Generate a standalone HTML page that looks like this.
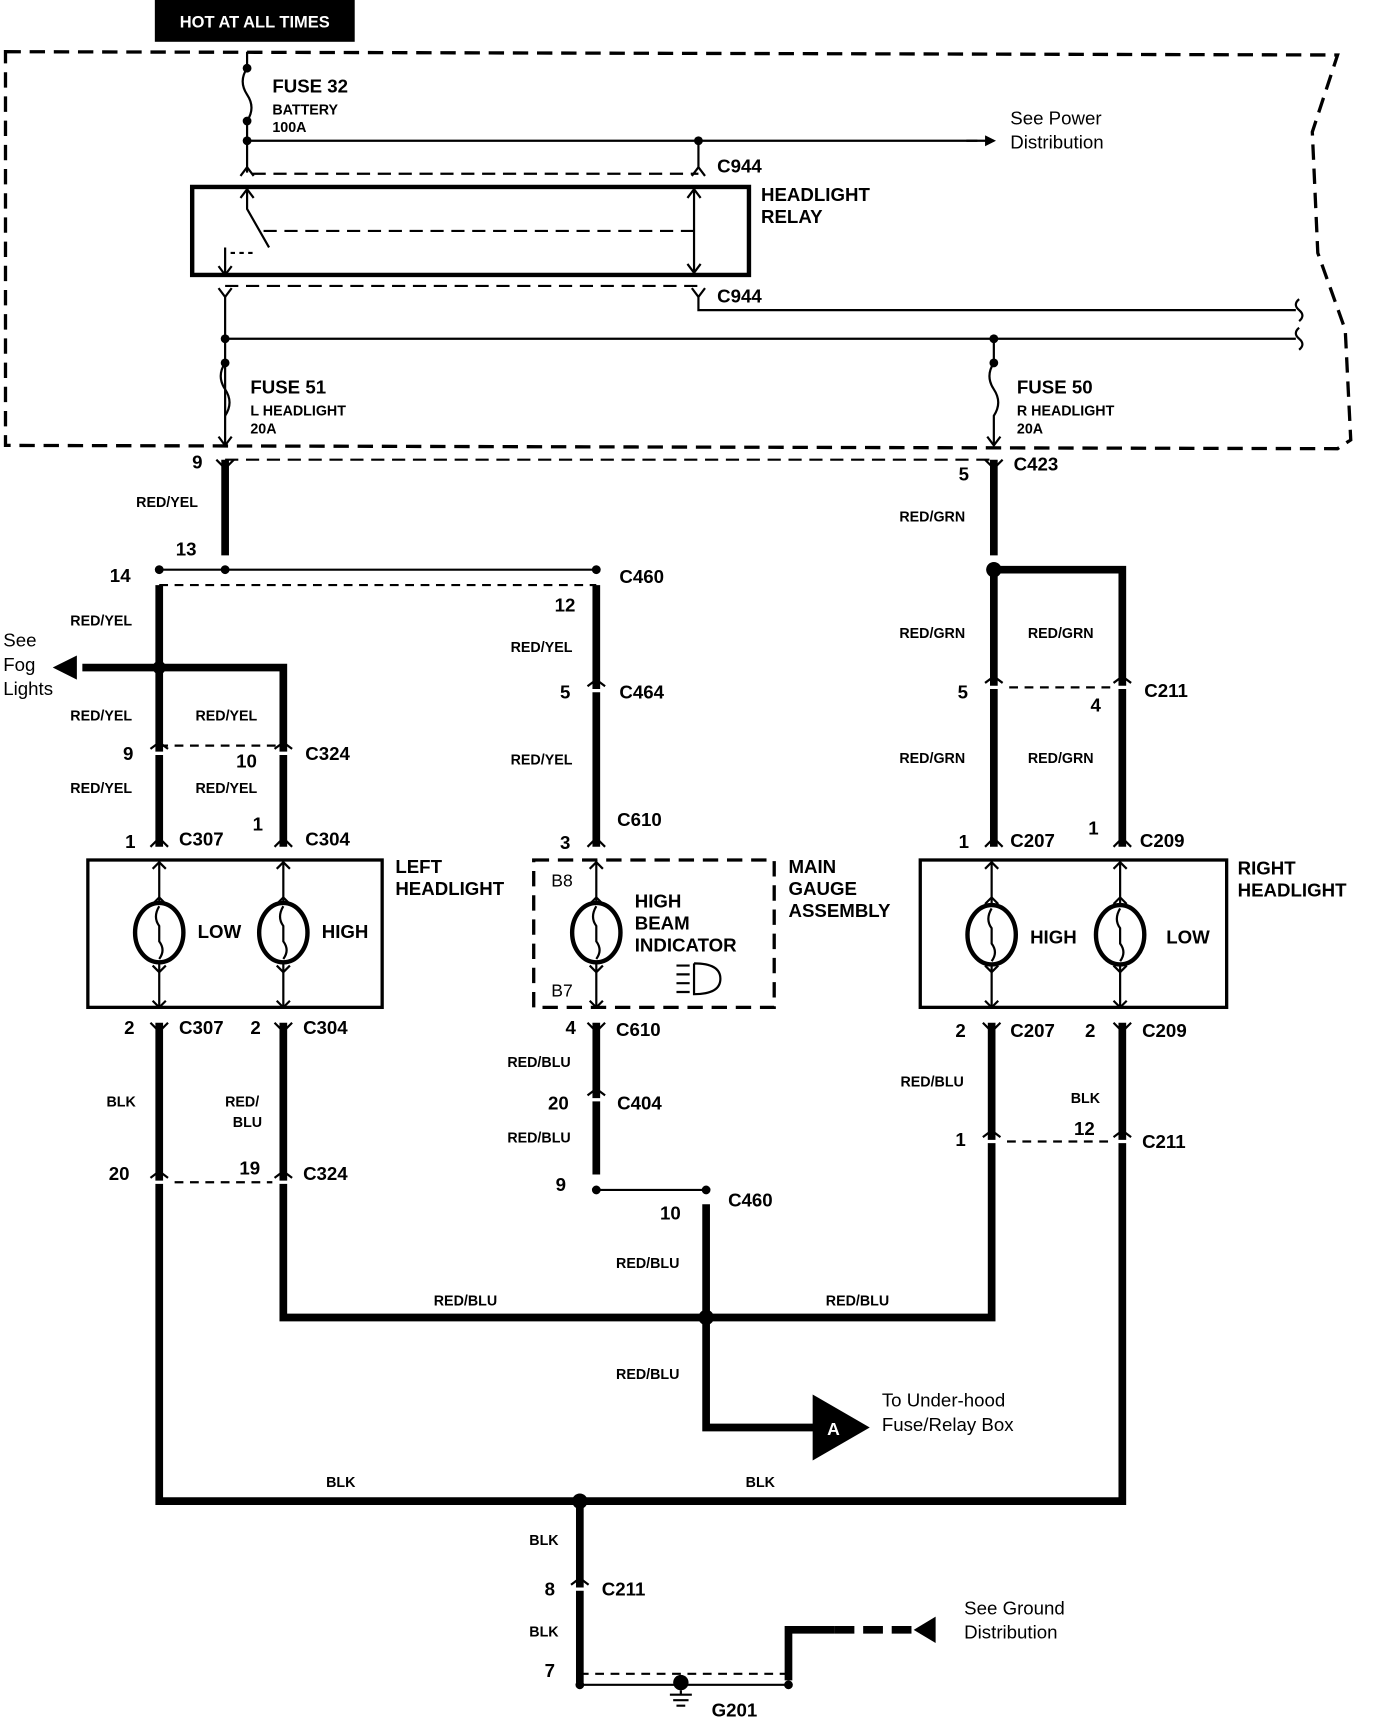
<!DOCTYPE html>
<html><head><meta charset="utf-8"><style>
html,body{margin:0;padding:0;background:#fff;}
svg{display:block}
text{font-family:"Liberation Sans",sans-serif;font-weight:bold;fill:#000}
.s{font-size:13px}
.m{font-size:17px}
.n{font-size:17px;font-weight:normal}
</style></head><body>
<svg width="1376" height="1720" viewBox="0 0 1253 1564" preserveAspectRatio="none" xmlns="http://www.w3.org/2000/svg">
<defs>
<marker id="ar" markerWidth="10" markerHeight="10" refX="8" refY="5" orient="auto" markerUnits="userSpaceOnUse"><path d="M0,0 L10,5 L0,10 z"/></marker>
</defs>
<rect x="0" y="0" width="1253" height="1564" fill="#fff"/>
<rect x="141" y="0" width="182" height="38" fill="#000"/>
<text x="232" y="25" text-anchor="middle" style="fill:#fff;font-size:15px">HOT AT ALL TIMES</text>
<path d="M5,47 L1218,50 L1195,120 L1200,230 L1225,300 L1230,400 L1218,408 L5,405 Z" fill="none" stroke="#000" stroke-width="3" stroke-dasharray="14 8"/>
<g fill="none" stroke="#000" stroke-width="2">
<path d="M225,47 V62 q-8,12 0,24 q8,12 0,24 V157"/>
<path d="M225,128 H890" />
<path d="M636,128 V152"/>
<path d="M219,160 l6,-8 l6,8 M630,160 l6,-8 l6,8"/>
<path d="M230,158 H636" stroke-dasharray="12 7"/>
<rect x="175" y="170" width="507" height="80" stroke-width="4"/>
<path d="M225,172 V190 L245,225"/>
<path d="M219,180 l6,-8 l6,8"/>
<path d="M240,210 H632" stroke-dasharray="12 7"/>
<path d="M632,172 V248 M626,180 l6,-8 l6,8 M626,240 l6,8 l6,-8"/>
<path d="M205,225 V250 M199,242 l6,8 l6,-8"/>
<path d="M210,230 h20" stroke-dasharray="4 4"/>
<path d="M199,262 l6,8 l6,-8 M630,262 l6,8 l6,-8"/>
<path d="M205,260 H636" stroke-dasharray="12 7"/>
<path d="M636,270 V282 H1180"/>
<path d="M205,270 V405"/>
<path d="M205,308 H1180"/>
<path d="M1183,272 q-6,5 0,10 q6,5 0,10 M1183,298 q-6,5 0,10 q6,5 0,10"/>
<path d="M205,330 q-8,12 0,24 q8,12 0,24"/>
<path d="M905,308 V330 q-8,12 0,24 q8,12 0,24 V405"/>
<path d="M199,397 l6,8 l6,-8 M899,397 l6,8 l6,-8"/>
<path d="M205,418 H905" stroke-dasharray="12 7"/>
<path d="M145,518 H543"/>
<path d="M145,532 H543" stroke-dasharray="8 6"/>
<path d="M145,678 H258 M905,625 H1022 M145,1075 H258 M903,1038 H1022" stroke-dasharray="8 6"/>
<path d="M543,1082 H643"/>
<path d="M528,1532 H718"/>
<path d="M528,1522 H718" stroke-dasharray="8 6"/>
</g>
<path d="M880,128 L905,128" stroke="#000" stroke-width="2" marker-end="url(#ar)"/>
<g fill="#000">
<circle cx="225" cy="128" r="4"/><circle cx="636" cy="128" r="4"/><circle cx="225" cy="62" r="4"/><circle cx="225" cy="110" r="4"/>
<circle cx="205" cy="308" r="4"/><circle cx="905" cy="308" r="4"/><circle cx="205" cy="330" r="4"/><circle cx="905" cy="330" r="4"/>
<circle cx="145" cy="518" r="4"/><circle cx="205" cy="518" r="4"/><circle cx="543" cy="518" r="4"/>
<circle cx="905" cy="518" r="7"/><circle cx="145" cy="607" r="6"/>
<circle cx="543" cy="1082" r="4"/><circle cx="643" cy="1082" r="4"/>
<circle cx="643" cy="1198" r="7"/><circle cx="528" cy="1365" r="7"/>
<circle cx="528" cy="1532" r="4"/><circle cx="718" cy="1532" r="4"/>
<circle cx="620" cy="1530" r="7"/>
</g>
<g fill="none" stroke="#000" stroke-width="7">
<path d="M205,418 V505 M905,418 V505"/>
<path d="M145,532 V770 M145,607 H75 M145,607 H258 V770"/>
<path d="M543,532 V770"/>
<path d="M905,518 V770 M905,518 H1022 V770"/>
<path d="M145,930 V1365 H1022 V930"/>
<path d="M258,930 V1198 H903 V930"/>
<path d="M543,930 V1068"/>
<path d="M643,1095 V1298 H745"/>
<path d="M528,1365 V1530"/>
<path d="M718,1528 V1482 H760"/>
<path d="M760,1482 H840" stroke-dasharray="18 8"/>
</g>
<path d="M48,607 L70,596 L70,618 Z"/>
<path d="M852,1470 L852,1494 L832,1482 Z"/>
<path d="M740,1268 L792,1298 L740,1328 Z"/>
<text x="759" y="1305" text-anchor="middle" style="fill:#fff;font-size:16px">A</text>
<g stroke="#fff" stroke-width="3">
<path d="M135,685 H155 M248,685 H268 M533,628 H553 M895,625 H915 M1012,625 H1032 M135,1075 H155 M248,1075 H268 M533,1000 H553 M893,1038 H913 M1012,1038 H1032 M518,1445 H538"/>
</g>
<g fill="none" stroke="#000" stroke-width="2">
<path d="M137,681 l8,-6 l8,6 M250,681 l8,-6 l8,6 M535,624 l8,-6 l8,6 M897,621 l8,-6 l8,6 M1014,621 l8,-6 l8,6 M137,1071 l8,-6 l8,6 M250,1071 l8,-6 l8,6 M535,996 l8,-6 l8,6 M895,1034 l8,-6 l8,6 M1014,1034 l8,-6 l8,6 M520,1441 l8,-6 l8,6"/>
<path d="M197,418 l8,8 l8,-8 M897,418 l8,8 l8,-8 M137,770 l8,-8 l8,8 M250,770 l8,-8 l8,8 M535,770 l8,-8 l8,8 M897,770 l8,-8 l8,8 M1014,770 l8,-8 l8,8 M137,930 l8,8 l8,-8 M250,930 l8,8 l8,-8 M535,930 l8,8 l8,-8 M895,930 l8,8 l8,-8 M1014,930 l8,8 l8,-8"/>
</g>
<g fill="none" stroke="#000">
<rect x="80" y="782" width="268" height="134" stroke-width="3"/>
<rect x="486" y="782" width="219" height="134" stroke-width="3" stroke-dasharray="14 8"/>
<rect x="838" y="782" width="279" height="134" stroke-width="3"/>
</g>
<g fill="none" stroke="#000" stroke-width="2">
<path d="M145,782 V916 M258,782 V916 M543,782 V916 M903,782 V916 M1020,782 V916"/>
<path d="M139,790 l6,-6 l6,6 M252,790 l6,-6 l6,6 M537,790 l6,-6 l6,6 M897,790 l6,-6 l6,6 M1014,790 l6,-6 l6,6"/>
<path d="M139,910 l6,6 l6,-6 M252,910 l6,6 l6,-6 M537,910 l6,6 l6,-6 M897,910 l6,6 l6,-6 M1014,910 l6,6 l6,-6"/>
<path d="M139,822 l6,-6 l6,6 M252,822 l6,-6 l6,6 M537,822 l6,-6 l6,6 M897,822 l6,-6 l6,6 M1014,822 l6,-6 l6,6"/>
<path d="M139,878 l6,6 l6,-6 M252,878 l6,6 l6,-6 M537,878 l6,6 l6,-6 M897,878 l6,6 l6,-6 M1014,878 l6,6 l6,-6"/>
</g>
<g fill="#fff" stroke="#000" stroke-width="4">
<ellipse cx="145" cy="848" rx="22" ry="27"/><ellipse cx="258" cy="848" rx="22" ry="27"/>
<ellipse cx="543" cy="848" rx="22" ry="27"/><ellipse cx="903" cy="850" rx="22" ry="27"/><ellipse cx="1020" cy="850" rx="22" ry="27"/>
</g>
<g fill="none" stroke="#000" stroke-width="2">
<path d="M145,824 q-6,10 0,18 v14 q6,8 0,16 M258,824 q-6,10 0,18 v14 q6,8 0,16 M543,824 q-6,10 0,18 v14 q6,8 0,16 M903,826 q-6,10 0,18 v14 q6,8 0,16 M1020,826 q-6,10 0,18 v14 q6,8 0,16"/>
<path d="M616,878 h12 M616,886 h12 M616,894 h12 M616,902 h12 M632,876 v28 q24,0 24,-14 q0,-14 -24,-14"/>
</g>
<g stroke="#000" stroke-width="2"><path d="M620,1537 V1541 M610,1541 h20 M613,1546 h14 M616,1551 h8"/></g>
<text x="248" y="84" class="m">FUSE 32</text>
<text x="248" y="104" class="s">BATTERY</text>
<text x="248" y="120" class="s">100A</text>
<text x="920" y="113" class="n">See Power</text>
<text x="920" y="135" class="n">Distribution</text>
<text x="653" y="157" class="m">C944</text>
<text x="693" y="183" class="m">HEADLIGHT</text>
<text x="693" y="203" class="m">RELAY</text>
<text x="653" y="275" class="m">C944</text>
<text x="228" y="358" class="m">FUSE 51</text>
<text x="228" y="378" class="s">L HEADLIGHT</text>
<text x="228" y="394" class="s">20A</text>
<text x="926" y="358" class="m">FUSE 50</text>
<text x="926" y="378" class="s">R HEADLIGHT</text>
<text x="926" y="394" class="s">20A</text>
<text x="175" y="426" class="m">9</text>
<text x="873" y="437" class="m">5</text>
<text x="923" y="428" class="m">C423</text>
<text x="124" y="461" class="s">RED/YEL</text>
<text x="819" y="474" class="s">RED/GRN</text>
<text x="160" y="505" class="m">13</text>
<text x="100" y="529" class="m">14</text>
<text x="564" y="530" class="m">C460</text>
<text x="505" y="556" class="m">12</text>
<text x="64" y="569" class="s">RED/YEL</text>
<text x="465" y="593" class="s">RED/YEL</text>
<text x="819" y="580" class="s">RED/GRN</text>
<text x="936" y="580" class="s">RED/GRN</text>
<text x="3" y="588" class="n">See</text>
<text x="3" y="610" class="n">Fog</text>
<text x="3" y="632" class="n">Lights</text>
<text x="510" y="635" class="m">5</text>
<text x="564" y="635" class="m">C464</text>
<text x="872" y="635" class="m">5</text>
<text x="993" y="647" class="m">4</text>
<text x="1042" y="634" class="m">C211</text>
<text x="64" y="655" class="s">RED/YEL</text>
<text x="178" y="655" class="s">RED/YEL</text>
<text x="112" y="691" class="m">9</text>
<text x="215" y="698" class="m">10</text>
<text x="278" y="691" class="m">C324</text>
<text x="465" y="695" class="s">RED/YEL</text>
<text x="819" y="694" class="s">RED/GRN</text>
<text x="936" y="694" class="s">RED/GRN</text>
<text x="64" y="721" class="s">RED/YEL</text>
<text x="178" y="721" class="s">RED/YEL</text>
<text x="562" y="751" class="m">C610</text>
<text x="230" y="755" class="m">1</text>
<text x="991" y="759" class="m">1</text>
<text x="114" y="771" class="m">1</text>
<text x="163" y="769" class="m">C307</text>
<text x="278" y="769" class="m">C304</text>
<text x="510" y="772" class="m">3</text>
<text x="873" y="771" class="m">1</text>
<text x="920" y="770" class="m">C207</text>
<text x="1038" y="770" class="m">C209</text>
<text x="360" y="794" class="m">LEFT</text>
<text x="360" y="814" class="m">HEADLIGHT</text>
<text x="718" y="794" class="m">MAIN</text>
<text x="718" y="814" class="m">GAUGE</text>
<text x="718" y="834" class="m">ASSEMBLY</text>
<text x="1127" y="795" class="m">RIGHT</text>
<text x="1127" y="815" class="m">HEADLIGHT</text>
<text x="502" y="806" class="n" style="font-size:16px">B8</text>
<text x="578" y="825" class="m">HIGH</text>
<text x="578" y="845" class="m">BEAM</text>
<text x="578" y="865" class="m">INDICATOR</text>
<text x="180" y="853" class="m">LOW</text>
<text x="293" y="853" class="m">HIGH</text>
<text x="938" y="858" class="m">HIGH</text>
<text x="1062" y="858" class="m">LOW</text>
<text x="502" y="906" class="n" style="font-size:16px">B7</text>
<text x="113" y="940" class="m">2</text>
<text x="163" y="940" class="m">C307</text>
<text x="228" y="940" class="m">2</text>
<text x="276" y="940" class="m">C304</text>
<text x="515" y="940" class="m">4</text>
<text x="561" y="942" class="m">C610</text>
<text x="870" y="943" class="m">2</text>
<text x="920" y="943" class="m">C207</text>
<text x="988" y="943" class="m">2</text>
<text x="1040" y="943" class="m">C209</text>
<text x="462" y="970" class="s">RED/BLU</text>
<text x="820" y="988" class="s">RED/BLU</text>
<text x="975" y="1003" class="s">BLK</text>
<text x="97" y="1006" class="s">BLK</text>
<text x="205" y="1006" class="s">RED/</text>
<text x="212" y="1025" class="s">BLU</text>
<text x="499" y="1009" class="m">20</text>
<text x="562" y="1009" class="m">C404</text>
<text x="978" y="1032" class="m">12</text>
<text x="462" y="1039" class="s">RED/BLU</text>
<text x="870" y="1042" class="m">1</text>
<text x="1040" y="1044" class="m">C211</text>
<text x="99" y="1073" class="m">20</text>
<text x="218" y="1068" class="m">19</text>
<text x="276" y="1073" class="m">C324</text>
<text x="506" y="1083" class="m">9</text>
<text x="663" y="1097" class="m">C460</text>
<text x="601" y="1109" class="m">10</text>
<text x="561" y="1153" class="s">RED/BLU</text>
<text x="395" y="1187" class="s">RED/BLU</text>
<text x="752" y="1187" class="s">RED/BLU</text>
<text x="561" y="1254" class="s">RED/BLU</text>
<text x="803" y="1279" class="n">To Under-hood</text>
<text x="803" y="1301" class="n">Fuse/Relay Box</text>
<text x="297" y="1352" class="s">BLK</text>
<text x="679" y="1352" class="s">BLK</text>
<text x="482" y="1405" class="s">BLK</text>
<text x="496" y="1451" class="m">8</text>
<text x="548" y="1451" class="m">C211</text>
<text x="878" y="1468" class="n">See Ground</text>
<text x="878" y="1490" class="n">Distribution</text>
<text x="482" y="1488" class="s">BLK</text>
<text x="496" y="1525" class="m">7</text>
<text x="648" y="1561" class="m">G201</text>
</svg>
</body></html>
